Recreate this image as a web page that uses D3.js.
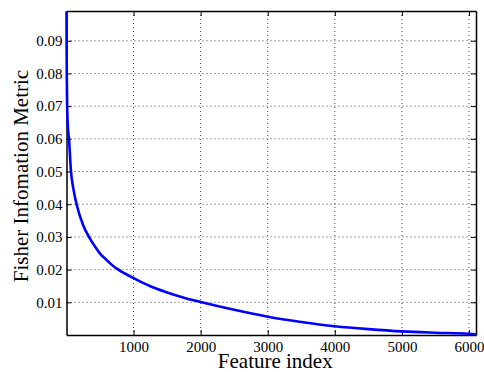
<!DOCTYPE html>
<html>
<head>
<meta charset="utf-8">
<script src="https://cdn.jsdelivr.net/npm/d3@7"></script>
<style>
  body { margin: 0; background: #fff; }
  svg { display: block; }
  .grid line { stroke: #444; stroke-dasharray: 1,3; stroke-width: 1; }
  .label { font-family: "Liberation Serif", "Times New Roman", serif; font-size: 21px; fill: #000; }
  .tick text { font-family: "Liberation Serif", "Times New Roman", serif !important; font-size: 15px !important; fill: #000; }
</style>
</head>
<body>
<svg id="graph" width="484" height="372"></svg>
<script>
  // data
  var featureIndex = [0, 2, 5, 10, 20, 37, 67, 100, 150, 250, 350, 450, 500, 600, 650, 750, 1000, 1250, 1500, 1750, 2000, 2500, 3000, 3500, 4000, 4500, 5000, 5500, 6000, 6100];
  var fisherValue = [0.099, 0.088, 0.078, 0.070, 0.064, 0.060, 0.050, 0.045, 0.040, 0.0335, 0.0295, 0.0263, 0.0249, 0.0229, 0.0219, 0.0203, 0.0174, 0.0149, 0.0130, 0.0114, 0.0101, 0.0077, 0.0056, 0.0040, 0.0027, 0.0018, 0.0011, 0.0007, 0.0004, 0.0002];
  var xTicks = [1000, 2000, 3000, 4000, 5000, 6000];
  var yTicks = [0.01, 0.02, 0.03, 0.04, 0.05, 0.06, 0.07, 0.08, 0.09];

  var margin = { top: 11, right: 8, bottom: 37, left: 66.5 },
      width = 484 - margin.left - margin.right,
      height = 372 - margin.top - margin.bottom;

  var graph = d3.select("#graph")
      .append("g")
      .attr("transform", "translate(" + margin.left + "," + margin.top + ")");

  var x = d3.scaleLinear().domain([0, 6105]).range([0, width]),
      y = d3.scaleLinear().domain([0, 0.0991]).range([height, 0]);

  var data = featureIndex.map(function (d, i) {
      return { idx: d, value: fisherValue[i] };
  });

  // grid
  var grid = graph.append("g").attr("class", "grid");

  grid.selectAll("line.v")
      .data(xTicks)
      .enter().append("line")
      .attr("class", "v")
      .attr("x1", function (d) { return x(d); })
      .attr("x2", function (d) { return x(d); })
      .attr("y1", 0)
      .attr("y2", height);

  grid.selectAll("line.h")
      .data(yTicks)
      .enter().append("line")
      .attr("class", "h")
      .attr("x1", 0)
      .attr("x2", width)
      .attr("y1", function (d) { return y(d); })
      .attr("y2", function (d) { return y(d); });

  // axes (ticks inside, like matlab)
  graph.append("g")
      .attr("transform", "translate(0," + height + ")")
      .call(d3.axisBottom(x).tickValues(xTicks).tickSizeInner(-5).tickSizeOuter(0).tickPadding(6).tickFormat(d3.format("d")));

  graph.append("g")
      .call(d3.axisLeft(y).tickValues(yTicks).tickSizeInner(-5).tickSizeOuter(0).tickPadding(4).tickFormat(d3.format(".2f")));

  graph.append("g")
      .call(d3.axisTop(x).tickValues(xTicks).tickSizeInner(-5).tickSizeOuter(0).tickFormat(""));

  graph.append("g")
      .attr("transform", "translate(" + width + ",0)")
      .call(d3.axisRight(y).tickValues(yTicks).tickSizeInner(-5).tickSizeOuter(0).tickFormat(""));

  graph.selectAll(".domain").attr("stroke", "#000").attr("stroke-width", 1.5);
  graph.selectAll(".tick line").attr("stroke", "#000");
  // axis groups carry font attrs of their own; drop them so the serif style wins
  graph.selectAll("g").attr("font-family", null).attr("font-size", null);

  // curve
  var line = d3.line()
      .x(function (d) { return x(d.idx); })
      .y(function (d) { return y(d.value); })
      .curve(d3.curveMonotoneX);

  graph.append("path")
      .datum(data)
      .attr("fill", "none")
      .attr("stroke", "#0000ff")
      .attr("stroke-width", 2.6)
      .attr("d", line);

  // labels
  graph.append("text")
      .attr("class", "label")
      .attr("text-anchor", "middle")
      .attr("x", width / 2 + 4)
      .attr("y", height + 33)
      .text("Feature index");

  graph.append("text")
      .attr("class", "label")
      .attr("text-anchor", "middle")
      .attr("transform", "translate(" + (28 - margin.left) + "," + (height / 2 + 3) + ") rotate(-90)")
      .text("Fisher Infomation Metric");
</script>
</body>
</html>
